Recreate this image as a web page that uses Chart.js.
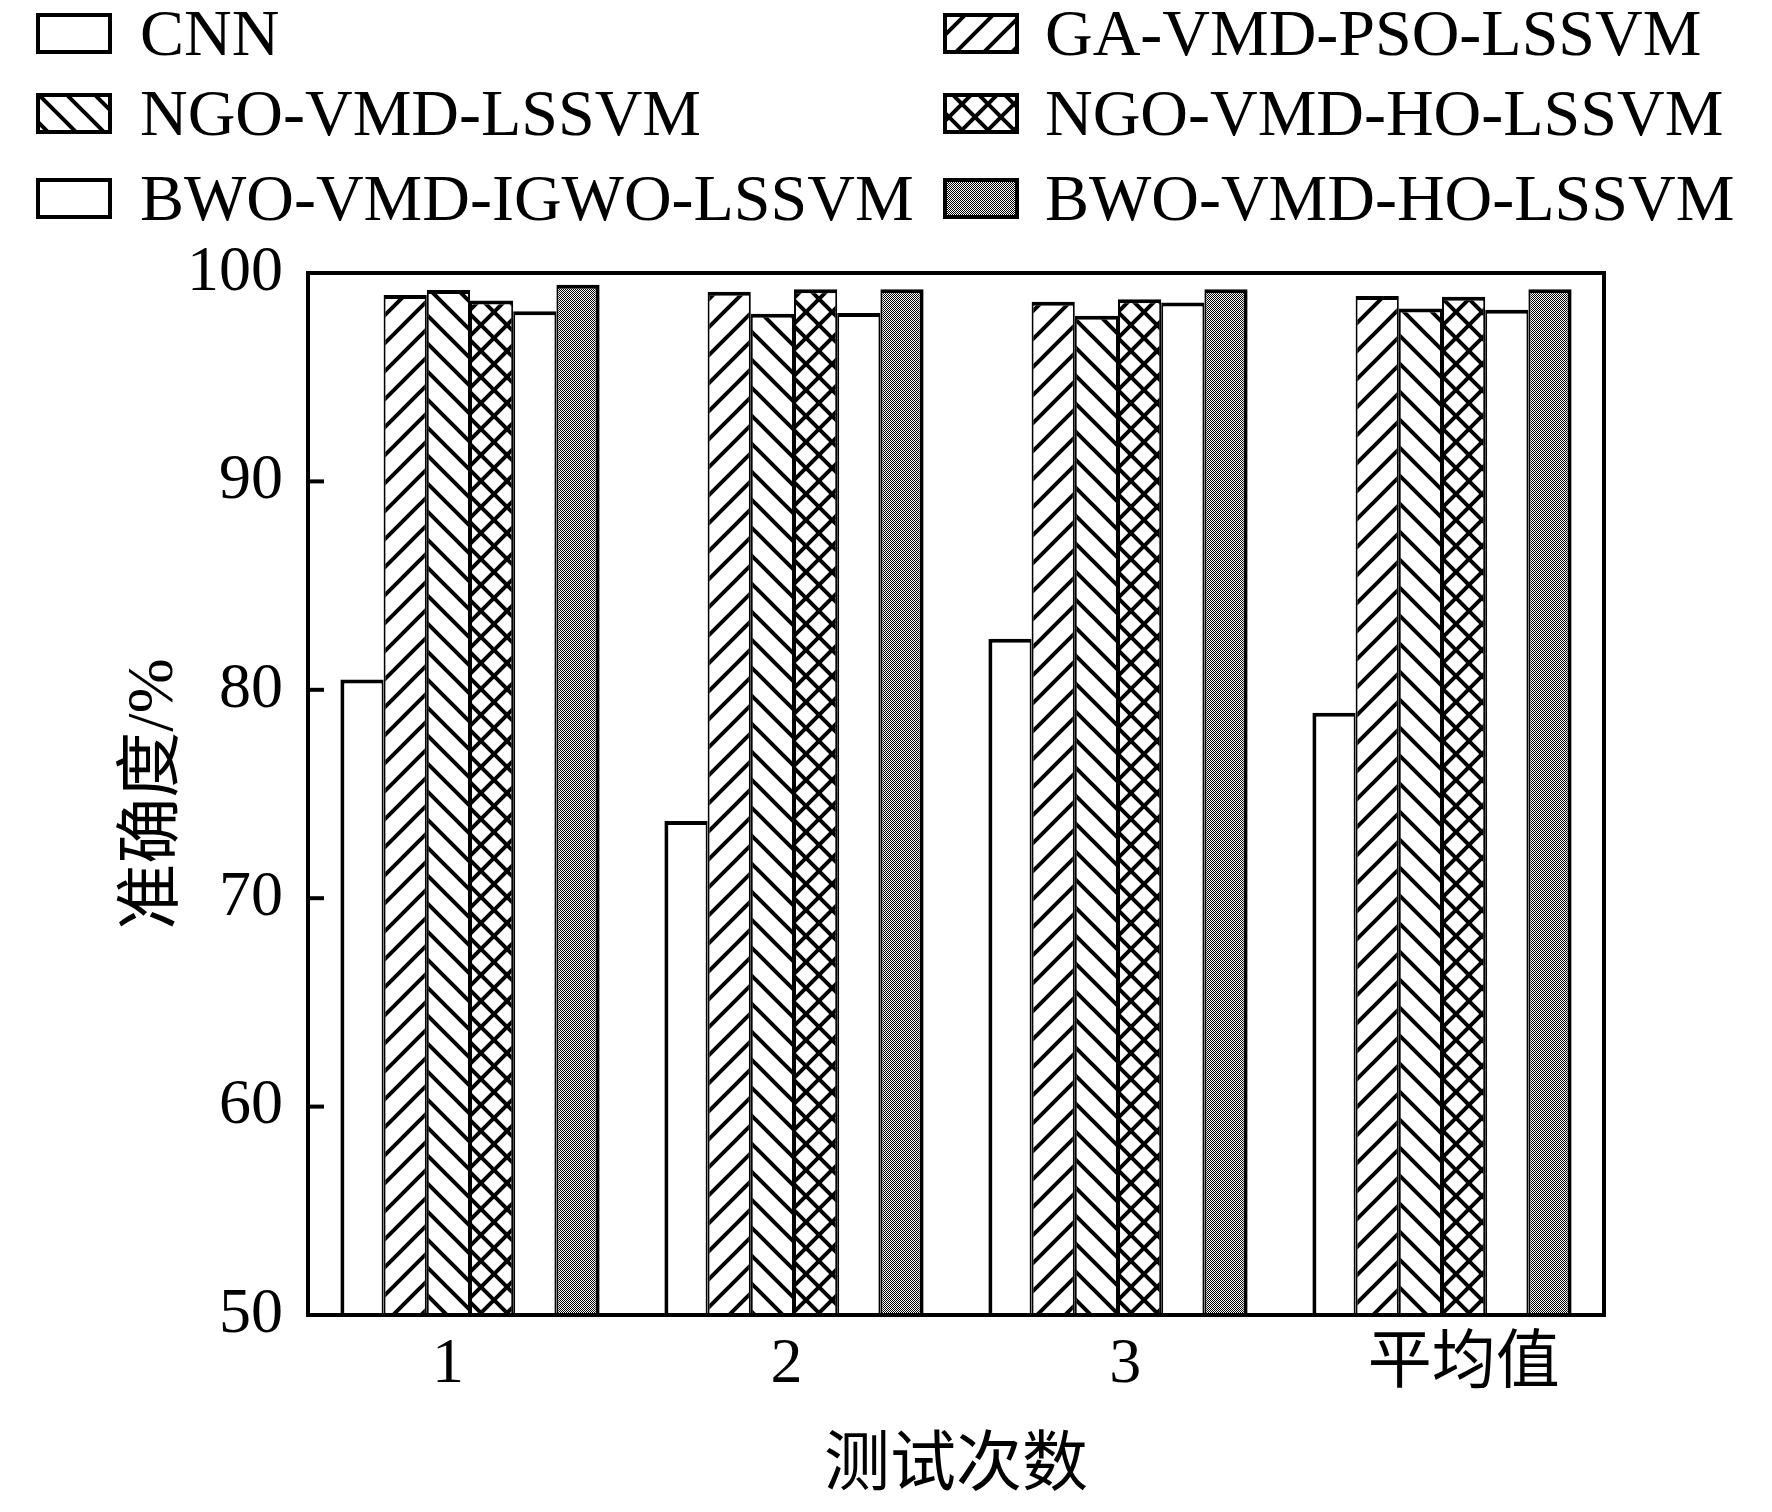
<!DOCTYPE html>
<html>
<head>
<meta charset="utf-8">
<script src="https://cdn.jsdelivr.net/npm/chart.js@4.4.1/dist/chart.umd.min.js"></script>
<style>
html,body{margin:0;padding:0;background:#fff;}
canvas{display:block;}
</style>
</head>
<body>
<canvas id="c" width="1772" height="1512"></canvas>
<script>
// ---------- data ----------
const categories = ['1', '2', '3', '平均值'];
const seriesNames = ['CNN', 'GA-VMD-PSO-LSSVM', 'NGO-VMD-LSSVM', 'NGO-VMD-HO-LSSVM', 'BWO-VMD-IGWO-LSSVM', 'BWO-VMD-HO-LSSVM'];
const cnn        = [80.5, 73.7, 82.45, 78.9];
const gaVmdPso   = [98.95, 99.1, 98.62, 98.9];
const ngoVmd     = [99.18, 98.05, 97.95, 98.3];
const ngoVmdHo   = [98.68, 99.22, 98.74, 98.86];
const bwoVmdIgwo = [98.17, 98.08, 98.58, 98.24];
const bwoVmdHo   = [99.44, 99.22, 99.22, 99.22];
const yTicks = [50, 60, 70, 80, 90, 100];
const yTitle = '准确度/%';
const xTitle = '测试次数';

// ---------- patterns ----------
const cv = document.getElementById('c');
const ctx = cv.getContext('2d');

function hatch(w, h, dirs, lw) {
  const c = document.createElement('canvas');
  c.width = w; c.height = h;
  const g = c.getContext('2d');
  g.fillStyle = '#fff'; g.fillRect(0, 0, w, h);
  g.strokeStyle = '#000'; g.lineWidth = lw;
  for (const d of dirs) {
    for (let k = -2; k <= 2; k++) {
      g.beginPath();
      if (d === '/') {
        g.moveTo(-w, h + h + k * h);
        g.lineTo(2 * w, h - 2 * h + k * h);
      } else {
        g.moveTo(-w, -h + k * h);
        g.lineTo(2 * w, 2 * h + k * h);
      }
      g.stroke();
    }
  }
  return ctx.createPattern(c, 'repeat');
}
function checker() {
  const c = document.createElement('canvas');
  c.width = 2; c.height = 2;
  const g = c.getContext('2d');
  g.fillStyle = '#fff'; g.fillRect(0, 0, 2, 2);
  g.fillStyle = '#000'; g.fillRect(0, 0, 1, 1); g.fillRect(1, 1, 1, 1);
  return ctx.createPattern(c, 'repeat');
}

const fills = [
  '#ffffff',
  hatch(28, 28, ['/'], 4),
  hatch(28, 28, ['\\'], 4),
  hatch(26, 26, ['/', '\\'], 4),
  '#ffffff',
  checker()
];
const seriesValues = [cnn, gaVmdPso, ngoVmd, ngoVmdHo, bwoVmdIgwo, bwoVmdHo];

function borderFor(i) {
  const n = seriesValues.length;
  return { top: 4, bottom: 0, left: i === 0 ? 4 : 2, right: i === n - 1 ? 4 : 2 };
}

const datasets = seriesValues.map((vals, i) => ({
  label: seriesNames[i],
  data: vals,
  backgroundColor: fills[i],
  borderColor: '#000',
  borderWidth: borderFor(i),
  borderSkipped: false,
  categoryPercentage: 0.8,
  barPercentage: 1.0,
  xAxisID: 'x',
  yAxisID: 'y'
}));

const SERIF = "'Liberation Serif', 'Noto Sans CJK SC', serif";

// ---------- plugins ----------
const framePlugin = {
  id: 'frame',
  afterDatasetsDraw(chart) {
    const { ctx, chartArea: a, scales: { y } } = chart;
    ctx.save();
    ctx.strokeStyle = '#000';
    ctx.lineWidth = 4;
    ctx.strokeRect(a.left, a.top, a.right - a.left, a.bottom - a.top);
    for (const t of y.ticks) {
      const py = y.getPixelForValue(t.value);
      ctx.beginPath();
      ctx.moveTo(a.left, py);
      ctx.lineTo(a.left + 16, py);
      ctx.stroke();
    }
    ctx.restore();
  }
};

const legendPlugin = {
  id: 'gridLegend',
  afterDraw(chart) {
    const { ctx } = chart;
    const boxX = [38, 945], textX = [140, 1045], baseY = [55, 135, 220];
    ctx.save();
    chart.data.datasets.forEach((ds, i) => {
      const col = i % 2, row = Math.floor(i / 2);
      const bx = boxX[col], by = baseY[row] - 40;
      ctx.fillStyle = ds.backgroundColor;
      ctx.fillRect(bx, by, 72, 37);
      ctx.strokeStyle = '#000';
      ctx.lineWidth = 4;
      ctx.strokeRect(bx, by, 72, 37);
      ctx.fillStyle = '#000';
      ctx.font = "66px 'Liberation Serif'";
      ctx.textBaseline = 'alphabetic';
      ctx.textAlign = 'left';
      ctx.fillText(ds.label, textX[col], baseY[row]);
    });
    ctx.restore();
  }
};

// ---------- chart ----------
new Chart(ctx, {
  type: 'bar',
  data: { labels: categories, datasets },
  options: {
    responsive: false,
    devicePixelRatio: 1,
    animation: false,
    layout: { padding: { top: 273, right: 168, left: 0, bottom: 0 } },
    plugins: {
      legend: { display: false },
      tooltip: { enabled: false }
    },
    scales: {
      x: {
        type: 'category',
        display: false,
        offset: true
      },
      x2: {
        type: 'linear',
        position: 'bottom',
        offset: false,
        min: -0.4131,
        max: 3.414,
        grid: { display: false, drawTicks: false, offset: false },
        border: { display: false },
        afterBuildTicks(scale) {
          scale.ticks = categories.map((_, i) => ({ value: i }));
        },
        ticks: {
          color: '#000',
          padding: 12,
          maxRotation: 0,
          autoSkip: false,
          font: { family: SERIF, size: 64 },
          callback: (v) => categories[v]
        },
        title: {
          display: true,
          text: xTitle,
          color: '#000',
          font: { family: SERIF, size: 66 },
          padding: { top: 0, bottom: 5 }
        },
        afterFit(scale) { scale.height = 197; }
      },
      y: {
        type: 'linear',
        position: 'left',
        min: 50,
        max: 100,
        grid: { display: false, drawTicks: false },
        border: { display: false },
        afterBuildTicks(scale) {
          scale.ticks = yTicks.map(v => ({ value: v }));
        },
        ticks: {
          color: '#000',
          padding: 25,
          font: { family: SERIF, size: 64 }
        },
        title: {
          display: true,
          text: yTitle,
          color: '#000',
          font: { family: SERIF, size: 66 },
          padding: { top: 115, bottom: 0 }
        },
        afterFit(scale) { scale.width = 308; }
      }
    }
  },
  plugins: [framePlugin, legendPlugin]
});
</script>
</body>
</html>
